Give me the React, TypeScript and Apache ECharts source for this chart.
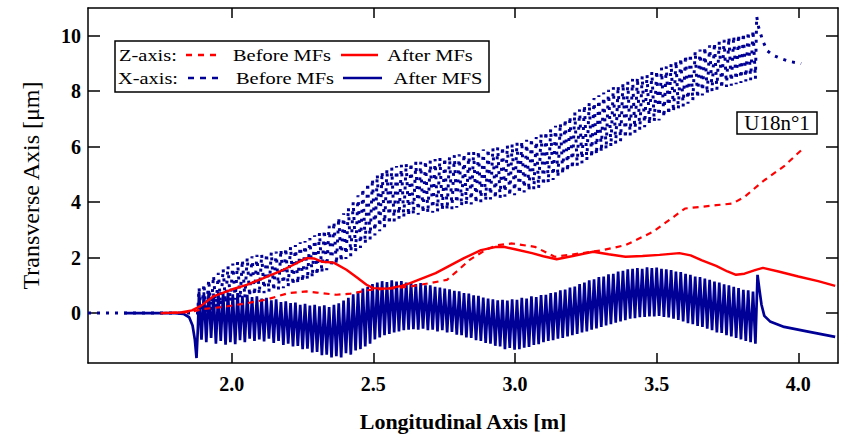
import { useEffect, useRef } from "react";
import * as echarts from "echarts";

const FONT = '"Liberation Serif", "Times New Roman", serif';

const X_TICKS = [2.0, 2.5, 3.0, 3.5, 4.0];
const Y_TICKS = [0, 2, 4, 6, 8, 10];

// oscillation sampling (undulator periods): peak / trough alternate every half step
const OSC_START = 1.885;
const OSC_HALF_STEP = 0.0085;

// X-axis, After MFS (solid blue)
const xAfterLead = [[1.62, 0], [1.8, 0], [1.83, -0.03], [1.85, -0.15], [1.862, -0.45], [1.87, -0.95], [1.876, -1.62], [1.881, -0.5]];
const xAfterPeaks = [
  0.78, 0.75, 0.8, 0.7, 0.76, 0.72,
  0.74, 0.68, 0.72, 0.62, 0.66, 0.58,
  0.6, 0.52, 0.55, 0.46, 0.5, 0.4,
  0.42, 0.36, 0.38, 0.3, 0.33, 0.27,
  0.3, 0.24, 0.28, 0.22, 0.3, 0.35,
  0.45, 0.55, 0.68, 0.78, 0.88, 0.95,
  1.05, 1.1, 1.15, 1.12, 1.18, 1.14,
  1.15, 1.1, 1.12, 1.05, 1.08, 1.0,
  1.0, 0.95, 0.92, 0.88, 0.86, 0.8,
  0.78, 0.72, 0.7, 0.64, 0.62, 0.56,
  0.52, 0.5, 0.46, 0.48, 0.45, 0.5,
  0.48, 0.55, 0.52, 0.6, 0.58, 0.65,
  0.66, 0.72, 0.75, 0.82, 0.85, 0.92,
  0.96, 1.05, 1.1, 1.18, 1.22, 1.3,
  1.32, 1.4, 1.42, 1.5, 1.52, 1.58,
  1.6, 1.62, 1.6, 1.65, 1.62, 1.64,
  1.6, 1.58, 1.55, 1.5, 1.48, 1.42,
  1.38, 1.32, 1.3, 1.24, 1.2, 1.14,
  1.1, 1.04, 1.0, 0.95, 0.9, 0.84,
  0.82, 0.78,
];
const xAfterTroughs = [
  -0.96, -1.05, -0.9, -1.1, -1.0, -1.14,
  -1.05, -1.12, -0.98, -1.05, -0.92, -1.0,
  -0.95, -1.02, -0.92, -1.08, -1.0, -1.15,
  -1.1, -1.2, -1.18, -1.3, -1.28, -1.42,
  -1.4, -1.52, -1.5, -1.6, -1.55, -1.6,
  -1.45, -1.5, -1.35, -1.3, -1.2, -1.1,
  -0.95, -0.88, -0.8, -0.75, -0.7, -0.66,
  -0.62, -0.6, -0.58, -0.6, -0.56, -0.62,
  -0.6, -0.66, -0.62, -0.7, -0.68, -0.78,
  -0.8, -0.88, -0.9, -0.98, -1.0, -1.08,
  -1.1, -1.18, -1.2, -1.3, -1.26, -1.32,
  -1.3, -1.25, -1.22, -1.15, -1.12, -1.05,
  -1.0, -0.98, -0.92, -0.9, -0.84, -0.8,
  -0.75, -0.7, -0.66, -0.6, -0.55, -0.5,
  -0.45, -0.4, -0.35, -0.3, -0.26, -0.2,
  -0.18, -0.15, -0.14, -0.12, -0.12, -0.1,
  -0.14, -0.16, -0.2, -0.25, -0.3, -0.36,
  -0.4, -0.46, -0.5, -0.56, -0.62, -0.7,
  -0.72, -0.8, -0.84, -0.9, -0.95, -1.0,
  -1.05, -1.1,
];
const xAfterTail = [[3.856, 1.38], [3.862, 0.9], [3.87, 0.3], [3.88, -0.1], [3.9, -0.3], [3.95, -0.5], [4.03, -0.66], [4.13, -0.86]];

// X-axis, Before MFs (dashed blue)
const xBeforeLead = [[1.493, 0], [1.88, 0]];
const xBeforePeaks = [
  0.9, 1.05, 1.2, 1.35, 1.45, 1.6,
  1.7, 1.78, 1.85, 1.92, 2.0, 2.05,
  2.1, 2.12, 2.15, 2.2, 2.22, 2.3,
  2.35, 2.4, 2.45, 2.55, 2.6, 2.7,
  2.8, 2.9, 3.0, 3.15, 3.3, 3.45,
  3.6, 3.8, 4.0, 4.25, 4.5, 4.7,
  4.85, 5.0, 5.1, 5.2, 5.25, 5.3,
  5.35, 5.4, 5.42, 5.45, 5.45, 5.5,
  5.5, 5.55, 5.6, 5.6, 5.65, 5.7,
  5.72, 5.75, 5.8, 5.82, 5.85, 5.9,
  5.92, 5.95, 5.98, 6.0, 6.05, 6.1,
  6.15, 6.2, 6.25, 6.3, 6.35, 6.45,
  6.55, 6.65, 6.75, 6.85, 7.0, 7.1,
  7.25, 7.35, 7.5, 7.6, 7.75, 7.85,
  7.95, 8.05, 8.15, 8.2, 8.3, 8.35,
  8.45, 8.5, 8.55, 8.6, 8.7, 8.75,
  8.85, 8.9, 9.0, 9.1, 9.2, 9.3,
  9.35, 9.45, 9.5, 9.6, 9.65, 9.75,
  9.8, 9.85, 9.95, 10.0, 10.05, 10.1,
  10.15, 10.2,
];
const xBeforeTroughs = [
  -0.1, 0.0, 0.1, 0.2, 0.28, 0.35,
  0.42, 0.48, 0.52, 0.56, 0.6, 0.64,
  0.68, 0.72, 0.76, 0.8, 0.85, 0.9,
  0.95, 1.0, 1.05, 1.12, 1.2, 1.28,
  1.36, 1.45, 1.55, 1.65, 1.75, 1.85,
  1.95, 2.05, 2.2, 2.35, 2.5, 2.65,
  2.8, 2.95, 3.1, 3.2, 3.3, 3.4,
  3.45, 3.5, 3.55, 3.55, 3.6, 3.6,
  3.62, 3.65, 3.7, 3.72, 3.75, 3.8,
  3.85, 3.9, 3.92, 3.95, 4.0, 4.05,
  4.1, 4.12, 4.15, 4.2, 4.22, 4.25,
  4.3, 4.35, 4.4, 4.45, 4.5, 4.6,
  4.7, 4.8, 4.9, 5.0, 5.1, 5.2,
  5.3, 5.4, 5.5, 5.6, 5.7, 5.8,
  5.9, 6.0, 6.1, 6.2, 6.3, 6.4,
  6.5, 6.6, 6.7, 6.8, 6.9, 6.95,
  7.05, 7.15, 7.25, 7.35, 7.45, 7.55,
  7.65, 7.75, 7.85, 7.9, 8.0, 8.05,
  8.1, 8.15, 8.2, 8.25, 8.3, 8.35,
  8.4, 8.45,
];
const xBeforeTail = [[3.853, 10.7], [3.86, 10.3], [3.875, 9.8], [3.89, 9.46], [3.91, 9.3], [3.94, 9.17], [3.97, 9.07], [4.01, 9.0]];

// Z-axis, After MFs (solid red)
const zAfter = [
  [1.75, 0], [1.82, 0.02], [1.86, 0.1], [1.89, 0.25], [1.935, 0.6], [2.0, 0.85], [2.053, 1.02],
  [2.11, 1.25], [2.17, 1.5], [2.22, 1.75], [2.25, 1.91], [2.265, 1.98], [2.29, 1.97], [2.32, 1.85],
  [2.36, 1.82], [2.405, 1.56], [2.44, 1.3], [2.476, 1.02], [2.5, 0.9], [2.55, 0.88], [2.6, 0.98],
  [2.63, 1.08], [2.72, 1.44], [2.82, 1.98], [2.88, 2.27], [2.93, 2.38], [2.96, 2.39], [3.0, 2.3],
  [3.06, 2.16], [3.1, 2.05], [3.147, 1.94], [3.2, 2.05], [3.276, 2.21], [3.33, 2.12], [3.39, 2.03],
  [3.45, 2.06], [3.51, 2.1], [3.58, 2.16], [3.62, 2.08], [3.66, 1.9], [3.71, 1.7], [3.75, 1.5],
  [3.78, 1.38], [3.81, 1.42], [3.85, 1.56], [3.875, 1.63], [3.93, 1.5], [4.0, 1.32], [4.07, 1.15],
  [4.13, 0.98],
];

// Z-axis, Before MFs (dashed red)
const zBefore = [
  [1.75, 0], [1.85, 0.03], [1.9, 0.15], [1.97, 0.22], [2.05, 0.35], [2.12, 0.48], [2.2, 0.72],
  [2.265, 0.78], [2.3, 0.74], [2.37, 0.66], [2.42, 0.7], [2.49, 0.84], [2.56, 0.88], [2.63, 0.96],
  [2.7, 1.08], [2.76, 1.2], [2.8, 1.55], [2.84, 1.92], [2.9, 2.3], [2.94, 2.45], [2.99, 2.51],
  [3.07, 2.39], [3.14, 2.03], [3.23, 2.15], [3.31, 2.27], [3.39, 2.45], [3.487, 2.93], [3.56, 3.47],
  [3.6, 3.77], [3.71, 3.89], [3.768, 3.95], [3.81, 4.19], [3.88, 4.79], [3.95, 5.3], [4.01, 5.87],
];

const BLUE = "#000096";
const RED = "#ff0000";

function oscillation(lead: number[][], peaks: number[], troughs: number[], tail: number[][]) {
  const pts: number[][] = lead.map((p) => [p[0], p[1]]);
  for (let i = 0; i < peaks.length; i++) {
    pts.push([OSC_START + 2 * i * OSC_HALF_STEP, peaks[i]]);
    pts.push([OSC_START + (2 * i + 1) * OSC_HALF_STEP, troughs[i]]);
  }
  tail.forEach((p) => pts.push([p[0], p[1]]));
  return pts;
}

function legendText(txt: string, cx: number, cy: number, size: number, sx: number) {
  return {
    type: "text",
    x: cx,
    y: cy,
    scaleX: sx,
    z: 101,
    style: {
      text: txt,
      x: 0,
      y: 0,
      align: "center",
      textAlign: "center",
      verticalAlign: "middle",
      textVerticalAlign: "middle",
      font: `${size}px ${FONT}`,
      fill: "#000",
    },
  };
}

function legendLine(x1: number, x2: number, y: number, color: string, dashed: boolean) {
  return {
    type: "line",
    z: 101,
    shape: { x1, y1: y, x2, y2: y },
    style: { stroke: color, lineWidth: 2.4, lineDash: dashed ? [6, 6] : null },
  };
}

export default function App() {
  const ref = useRef<HTMLDivElement>(null);
  useEffect(() => {
    if (!ref.current) return;
    const chart = echarts.init(ref.current, null, { renderer: "svg" });
    const axisLineStyle = { color: "#000", width: 1.5 };
    const tickLabel = { fontFamily: FONT, fontWeight: "bold", fontSize: 20, color: "#000" };
    chart.setOption({
      animation: false,
      backgroundColor: "#fff",
      grid: { left: 88, right: 7, top: 8, bottom: 75, containLabel: false },
      xAxis: [
        {
          type: "value",
          min: 1.493,
          max: 4.14,
          position: "bottom",
          axisLine: { show: true, onZero: false, lineStyle: axisLineStyle },
          axisTick: { show: true, inside: true, length: 10, customValues: X_TICKS, lineStyle: axisLineStyle },
          axisLabel: {
            ...tickLabel,
            margin: 11,
            customValues: X_TICKS,
            formatter: (v: number) => v.toFixed(1),
          },
          splitLine: { show: false },
          name: "Longitudinal Axis [m]",
          nameLocation: "middle",
          nameGap: 47,
          nameTextStyle: { fontFamily: FONT, fontWeight: "bold", fontSize: 22, color: "#000" },
        },
        {
          type: "value",
          min: 1.493,
          max: 4.14,
          position: "top",
          axisLine: { show: true, onZero: false, lineStyle: axisLineStyle },
          axisTick: { show: true, inside: true, length: 10, customValues: X_TICKS, lineStyle: axisLineStyle },
          axisLabel: { show: false },
          splitLine: { show: false },
        },
      ],
      yAxis: [
        {
          type: "value",
          min: -1.8,
          max: 11,
          position: "left",
          axisLine: { show: true, onZero: false, lineStyle: axisLineStyle },
          axisTick: { show: true, inside: true, length: 12, customValues: Y_TICKS, lineStyle: axisLineStyle },
          axisLabel: { ...tickLabel, margin: 7, customValues: Y_TICKS },
          splitLine: { show: false },
          name: "Transverse Axis [μm]",
          nameLocation: "middle",
          nameGap: 45,
          nameTextStyle: { fontFamily: FONT, fontSize: 24, color: "#000" },
        },
        {
          type: "value",
          min: -1.8,
          max: 11,
          position: "right",
          axisLine: { show: true, onZero: false, lineStyle: axisLineStyle },
          axisTick: { show: true, inside: true, length: 12, customValues: Y_TICKS, lineStyle: axisLineStyle },
          axisLabel: { show: false },
          splitLine: { show: false },
        },
      ],
      series: [
        {
          name: "X-axis Before MFs",
          type: "line",
          data: oscillation(xBeforeLead, xBeforePeaks, xBeforeTroughs, xBeforeTail),
          showSymbol: false,
          lineStyle: { color: BLUE, width: 3, type: [3, 6] },
        },
        {
          name: "X-axis After MFS",
          type: "line",
          data: oscillation(xAfterLead, xAfterPeaks, xAfterTroughs, xAfterTail),
          showSymbol: false,
          lineStyle: { color: BLUE, width: 2.7 },
        },
        {
          name: "Z-axis Before MFs",
          type: "line",
          data: zBefore,
          showSymbol: false,
          lineStyle: { color: RED, width: 2.2, type: [6, 5] },
        },
        {
          name: "Z-axis After MFs",
          type: "line",
          data: zAfter,
          showSymbol: false,
          lineStyle: { color: RED, width: 2.4 },
        },
      ],
      graphic: [
        {
          type: "rect",
          z: 100,
          shape: { x: 115, y: 41, width: 374, height: 51 },
          style: { fill: "#fff", stroke: "#000", lineWidth: 1.5 },
        },
        legendText("Z-axis:", 148, 55, 17, 1.2),
        legendLine(186, 218, 55, RED, true),
        legendText("Before MFs", 282, 55, 17, 1.2),
        legendLine(341, 378, 55, RED, false),
        legendText("After MFs", 430, 55, 17, 1.2),
        legendText("X-axis:", 148, 78, 17, 1.2),
        legendLine(188, 222, 78, BLUE, true),
        legendText("Before MFs", 285, 78, 17, 1.2),
        legendLine(343, 382, 78, BLUE, false),
        legendText("After MFS", 438, 78, 17, 1.2),
        {
          type: "rect",
          z: 100,
          shape: { x: 737, y: 112, width: 80, height: 22 },
          style: { fill: "#fff", stroke: "#000", lineWidth: 1.5 },
        },
        legendText("U18n°1", 777, 123, 20, 1.05),
      ],
    });
    return () => chart.dispose();
  }, []);
  return (
    <div
      ref={ref}
      style={{ position: "fixed", left: 0, top: 0, width: 845, height: 438, background: "#fff" }}
    />
  );
}
